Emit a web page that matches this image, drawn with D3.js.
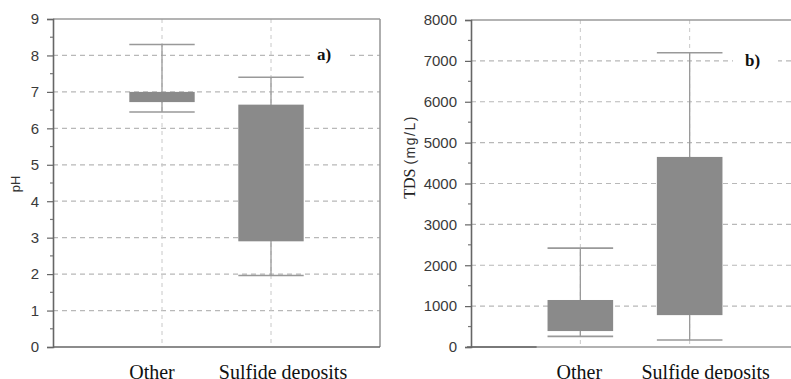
<!DOCTYPE html>
<html>
<head>
<meta charset="utf-8">
<script src="https://cdn.jsdelivr.net/npm/d3@7"></script>
<style>
  body { margin: 0; background: #fff; }
  svg { display: block; }
  .tick-label { font-family: "Liberation Sans", Arial, sans-serif; font-size: 15px; fill: #3a3a3a; }
  .cat-label { font-family: "Liberation Serif", "Times New Roman", serif; font-size: 20px; fill: #111; }
  .panel-tag { font-family: "Liberation Serif", "Times New Roman", serif; font-size: 17px; font-weight: bold; fill: #111; }
</style>
</head>
<body>
<svg id="chart" width="791" height="379"></svg>
<script>
const categories = ['Other', 'Sulfide deposits'];

// panel a) pH
const phMin = [6.45, 1.96];
const phQ1  = [6.72, 2.9];
const phQ3  = [7.0, 6.65];
const phMax = [8.3, 7.4];
const phTicks = [0, 1, 2, 3, 4, 5, 6, 7, 8, 9];

// panel b) TDS
const tdsMin = [260, 170];
const tdsQ1  = [390, 780];
const tdsQ3  = [1150, 4650];
const tdsMax = [2420, 7200];
const tdsTicks = [0, 1000, 2000, 3000, 4000, 5000, 6000, 7000, 8000];

const svg = d3.select('#chart');

function drawPanel(o) {
  const g = svg.append('g');
  const x = d3.scaleLinear().domain([0, 3]).range([o.left, o.right]);
  const y = d3.scaleLinear().domain([0, o.yMax]).range([o.bottom, o.top]);
  const half = (x(1) - x(0)) * 0.3;
  const boxes = categories.map((c, i) => ({
    cat: c, pos: i + 1, min: o.min[i], q1: o.q1[i], q3: o.q3[i], max: o.max[i]
  }));

  // horizontal grid
  g.selectAll('.hgrid').data(o.ticks.slice(1, -1)).enter().append('line')
    .attr('x1', o.left).attr('x2', o.right)
    .attr('y1', d => y(d)).attr('y2', d => y(d))
    .attr('stroke', '#b8b8b8').attr('stroke-width', 1.2).attr('stroke-dasharray', '5,4');

  // vertical grid
  g.selectAll('.vgrid').data(boxes).enter().append('line')
    .attr('x1', d => x(d.pos)).attr('x2', d => x(d.pos))
    .attr('y1', o.top).attr('y2', o.bottom)
    .attr('stroke', '#c8c8c8').attr('stroke-width', 1).attr('stroke-dasharray', '4,4');

  // panel tag with white backing
  g.append('rect').attr('x', o.tagX - o.tagPadL).attr('y', y(o.tagVal) - 9)
    .attr('width', o.tagPadL + 16 + o.tagPadR).attr('height', 18).attr('fill', '#fff');
  g.append('text').attr('class', 'panel-tag')
    .attr('x', o.tagX).attr('y', y(o.tagVal) + 5).text(o.tag);

  // whiskers
  const wh = g.selectAll('.box').data(boxes).enter().append('g');
  wh.append('line')
    .attr('x1', d => x(d.pos)).attr('x2', d => x(d.pos))
    .attr('y1', d => y(d.min)).attr('y2', d => y(d.max))
    .attr('stroke', '#999').attr('stroke-width', 1.3);
  ['min', 'max'].forEach(k => {
    wh.append('line')
      .attr('x1', d => x(d.pos) - half).attr('x2', d => x(d.pos) + half)
      .attr('y1', d => y(d[k])).attr('y2', d => y(d[k]))
      .attr('stroke', '#999').attr('stroke-width', 1.6);
  });
  wh.append('rect')
    .attr('x', d => x(d.pos) - half).attr('width', half * 2)
    .attr('y', d => y(d.q3)).attr('height', d => y(d.q1) - y(d.q3))
    .attr('fill', '#8a8a8a');

  // frame: top and right lighter
  g.append('line').attr('x1', o.left).attr('x2', o.right).attr('y1', o.top).attr('y2', o.top)
    .attr('stroke', '#9a9a9a').attr('stroke-width', 1.6);
  g.append('line').attr('x1', o.right).attr('x2', o.right).attr('y1', o.top).attr('y2', o.bottom)
    .attr('stroke', '#9a9a9a').attr('stroke-width', 1.6);
  g.append('line').attr('x1', o.left).attr('x2', o.right).attr('y1', o.bottom).attr('y2', o.bottom)
    .attr('stroke', o.bottomColor).attr('stroke-width', 1.6);
  if (o.darkBottomTo) {
    g.append('line').attr('x1', o.left - 4).attr('x2', x(o.darkBottomTo)).attr('y1', o.bottom).attr('y2', o.bottom)
      .attr('stroke', '#666').attr('stroke-width', 1.6);
  }

  // y axis with minor ticks
  const ax = g.append('g').attr('transform', `translate(${o.left},0)`)
    .call(d3.axisLeft(y).tickValues(o.ticks).tickSize(6).tickPadding(8).tickFormat(d3.format('d')));
  ax.select('.domain').attr('stroke', '#666').attr('stroke-width', 1.6);
  ax.selectAll('.tick line').attr('stroke', '#666').attr('stroke-width', 1.2);
  ax.selectAll('.tick text').attr('class', 'tick-label').attr('font-size', null).attr('font-family', null).attr('fill', null);
  const step = o.ticks[1] - o.ticks[0];
  g.selectAll('.minor').data(o.ticks.slice(0, -1)).enter().append('line')
    .attr('x1', o.left - 3).attr('x2', o.left)
    .attr('y1', d => y(d + step / 2)).attr('y2', d => y(d + step / 2))
    .attr('stroke', '#777').attr('stroke-width', 1.2);

  // category labels
  g.selectAll('.cat').data(boxes).enter().append('text')
    .attr('class', 'cat-label').attr('text-anchor', 'middle')
    .attr('x', d => x(d.pos) + o.catShift[d.pos - 1]).attr('y', 379)
    .text(d => d.cat);

  // y title
  const t = g.append('text')
    .attr('text-anchor', 'middle')
    .attr('transform', `translate(${o.titleX},${o.titleY}) rotate(-90)`);
  o.title(t);
}

drawPanel({
  left: 53, right: 380, top: 19, bottom: 347, yMax: 9, ticks: phTicks,
  min: phMin, q1: phQ1, q3: phQ3, max: phMax,
  tag: 'a)', tagX: 317, tagVal: 8, tagPadL: 4, tagPadR: 17,
  bottomColor: '#666', catShift: [-10, 12],
  titleX: 20, titleY: 184,
  title: t => t.append('tspan').attr('font-family', '"Liberation Sans", Arial, sans-serif')
    .attr('font-size', 13).attr('fill', '#333').text('pH')
});

drawPanel({
  left: 471, right: 799, top: 20, bottom: 347, yMax: 8000, ticks: tdsTicks,
  min: tdsMin, q1: tdsQ1, q3: tdsQ3, max: tdsMax,
  tag: 'b)', tagX: 745, tagVal: 7000, tagPadL: 12, tagPadR: 17,
  bottomColor: '#999', darkBottomTo: 0.6, catShift: [-1, 16],
  titleX: 415, titleY: 157,
  title: t => {
    t.append('tspan').attr('font-family', '"Liberation Serif", "Times New Roman", serif')
      .attr('font-size', 16).attr('fill', '#222').text('TDS ');
    t.append('tspan').attr('font-family', '"Liberation Sans", Arial, sans-serif')
      .attr('font-size', 14).attr('letter-spacing', 1.5).attr('fill', '#333').text('(mg/L)');
  }
});
</script>
</body>
</html>
